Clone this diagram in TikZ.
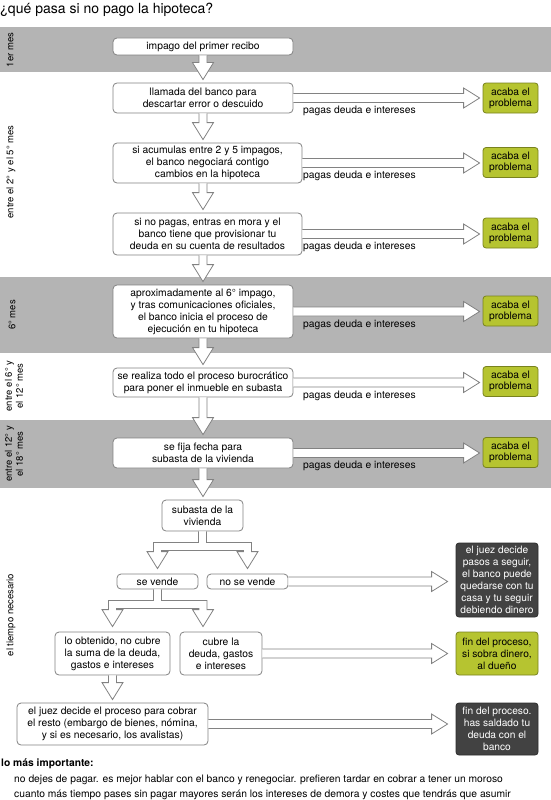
\documentclass[tikz,border=0pt]{standalone}
\usepackage{fontspec}
\setmainfont{TeX Gyre Heros}
\usetikzlibrary{calc}
\definecolor{band}{RGB}{180,180,180}
\definecolor{bord}{RGB}{130,130,130}
\definecolor{lime}{RGB}{182,196,48}
\definecolor{limeb}{RGB}{120,130,30}
\definecolor{dark}{RGB}{66,66,66}
\tikzset{
 box/.style={draw=bord, fill=white, rounded corners=4pt, line width=0.8pt, align=center, inner sep=0pt, font=\fontsize{10.3}{12}\selectfont},
 okbox/.style={draw=limeb, fill=lime, rounded corners=3pt, line width=0.8pt, align=center, inner sep=0pt, minimum width=55pt, minimum height=30pt, font=\fontsize{10.3}{11}\selectfont},
 dkbox/.style={draw=dark!70!black, fill=dark, text=white, rounded corners=3pt, line width=0.8pt, align=center, inner sep=0pt, minimum width=82pt, font=\fontsize{10.2}{12}\selectfont},
 okwide/.style={okbox, minimum width=82pt, font=\fontsize{10.2}{12}\selectfont},
 hol/.style={draw=bord, fill=white, line width=0.8pt, line join=miter},
 lbl/.style={font=\fontsize{10.3}{12}\selectfont, anchor=west, inner sep=0pt},
 side/.style={rotate=90, font=\fontsize{9.5}{11}\selectfont, align=center, inner sep=0pt},
 txt/.style={anchor=base west, inner sep=0pt, font=\fontsize{10.3}{12}\selectfont},
}
% horizontal hollow arrow: [gap]{source}{target}
\newcommand{\hArrow}[3][3pt]{\draw[hol] let \p1=(#2.east), \p2=(#3.west) in
  (\x1,\y1+4.5pt) -- (\x2-#1-16pt,\y1+4.5pt) -- (\x2-#1-16pt,\y1+10pt) -- (\x2-#1,\y1)
  -- (\x2-#1-16pt,\y1-10pt) -- (\x2-#1-16pt,\y1-4.5pt) -- (\x1,\y1-4.5pt);}
% vertical hollow arrow: {source}{target}{x reference}
\newcommand{\vArrow}[3]{\draw[hol] let \p1=(#1.south), \p2=(#2.north), \p3=(#3) in
  (\x3-4pt,\y1) -- (\x3-4pt,\y2+20pt) -- (\x3-10.5pt,\y2+20pt) -- (\x3,\y2+3pt)
  -- (\x3+10.5pt,\y2+20pt) -- (\x3+4pt,\y2+20pt) -- (\x3+4pt,\y1);}
% fork arrow: {source}{left x}{right x}{target y}{bar offset}
\newcommand{\forkArrow}[5]{\draw[hol] let \p1=(#1.south), \p2=(#2), \p3=(#3), \p4=(#4.north) in
  (\x1-4pt,\y1) -- (\x1-4pt,\y1-#5) -- (\x2-4pt,\y1-#5) -- (\x2-4pt,\y4+22pt) -- (\x2-10.5pt,\y4+22pt)
  -- (\x2,\y4+5pt) -- (\x2+10.5pt,\y4+22pt) -- (\x2+4pt,\y4+22pt) -- (\x2+4pt,\y1-#5-8pt)
  -- (\x3-4pt,\y1-#5-8pt) -- (\x3-4pt,\y4+22pt) -- (\x3-10.5pt,\y4+22pt) -- (\x3,\y4+5pt)
  -- (\x3+10.5pt,\y4+22pt) -- (\x3+4pt,\y4+22pt) -- (\x3+4pt,\y1-#5) -- (\x1+4pt,\y1-#5) -- (\x1+4pt,\y1);}

\begin{document}
\begin{tikzpicture}[x=1pt,y=-1pt]
\useasboundingbox (0,0) rectangle (551,800);
% bands
\fill[band] (0,27) rectangle (551,72);
\fill[band] (0,277) rectangle (551,353);
\fill[band] (0,420) rectangle (551,488);

% title
\node[anchor=base west, inner sep=0pt, font=\fontsize{14}{16}\selectfont] (title) at (0,14) {¿qué pasa si no pago la hipoteca?};

% side labels
\node[side] (m1) at (10,50) {1er mes};
\node[side] (m2) at (11,172) {entre el 2° y el 5° mes};
\node[side] (m3) at (12,315) {6° mes};
\node[side] (m4) at (14,386) {entre el 6° y\\el 12° mes};
\node[side] (m5) at (14,454) {entre el 12° y\\el 18° mes};
\node[side] (m6) at (11,615) {el tiempo necesario};

% main column
\node[box, minimum width=180pt, minimum height=17pt] (b1) at (203,46.5) {impago del primer recibo};
\node[box, minimum width=180pt, minimum height=30pt] (b2) at (203,98) {llamada del banco para\\descartar error o descuido};
\node[box, minimum width=189pt, minimum height=40pt] (b3) at (207.5,163) {si acumulas entre 2 y 5 impagos,\\el banco negociará contigo\\cambios en la hipoteca};
\node[box, minimum width=189pt, minimum height=42pt] (b4) at (207.5,234) {si no pagas, entras en mora y el\\banco tiene que provisionar tu\\deuda en su cuenta de resultados};
\node[box, minimum width=180pt, minimum height=53pt] (b5) at (203,311.5) {aproximadamente al 6° impago,\\y tras comunicaciones oficiales,\\el banco inicia el proceso de\\ejecución en tu hipoteca};
\node[box, minimum width=180pt, minimum height=29pt] (b6) at (203,382.5) {se realiza todo el proceso burocrático\\para poner el inmueble en subasta};
\node[box, minimum width=180pt, minimum height=30pt] (b7) at (203,453) {se fija fecha para\\subasta de la vivienda};

% green boxes
\node[okbox] (g2) at (510.5,98) {acaba el\\problema};
\node[okbox] (g3) at (510.5,162.5) {acaba el\\problema};
\node[okbox] (g4) at (510.5,233) {acaba el\\problema};
\node[okbox] (g5) at (510.5,311) {acaba el\\problema};
\node[okbox] (g6) at (510.5,381.5) {acaba el\\problema};
\node[okbox] (g7) at (510.5,452.5) {acaba el\\problema};

% labels
\node[lbl] (p2) at (303,111) {pagas deuda e intereses};
\node[lbl] (p3) at (303,176) {pagas deuda e intereses};
\node[lbl] (p4) at (303,247) {pagas deuda e intereses};
\node[lbl] (p5) at (303,324.5) {pagas deuda e intereses};
\node[lbl] (p6) at (303,395.5) {pagas deuda e intereses};
\node[lbl] (p7) at (303,466) {pagas deuda e intereses};

% lower part
\node[box, minimum width=81pt, minimum height=31pt] (sub) at (202.5,515.5) {subasta de la\\vivienda};
\node[box, minimum width=81pt, minimum height=15pt] (sv) at (157.5,581.5) {se vende};
\node[box, minimum width=81pt, minimum height=15pt] (nsv) at (247.5,581.5) {no se vende};
\node[box, minimum width=115pt, minimum height=43pt] (obt) at (112.5,653.5) {lo obtenido, no cubre\\la suma de la deuda,\\gastos e intereses};
\node[box, minimum width=82pt, minimum height=43pt] (cub) at (221,653.5) {cubre la\\deuda, gastos\\e intereses};
\node[box, minimum width=191pt, minimum height=42pt] (juez) at (112.5,724) {el juez decide el proceso para cobrar\\el resto (embargo de bienes, nómina,\\y si es necesario, los avalistas)};
\coordinate (rx) at (203,600);

\node[dkbox, minimum height=74pt] (d1) at (497,580) {el juez decide\\pasos a seguir,\\el banco puede\\quedarse con tu\\casa y tu seguir\\debiendo dinero};
\node[okwide, minimum height=43pt] (g8) at (497,653.5) {fin del proceso,\\si sobra dinero,\\al dueño};
\node[dkbox, minimum height=52pt] (d2) at (497,729) {fin del proceso.\\has saldado tu\\deuda con el\\banco};

% arrows
\vArrow{b1}{b2}{b1}
\vArrow{b2}{b3}{b1}
\vArrow{b3}{b4}{b1}
\vArrow{b4}{b5}{b1}
\vArrow{b5}{b6}{b1}
\vArrow{b6}{b7}{b1}
\vArrow{b7}{sub}{b1}
\vArrow{obt}{juez}{obt}
\hArrow{b2}{g2}
\hArrow{b3}{g3}
\hArrow{b4}{g4}
\hArrow{b5}{g5}
\hArrow{b6}{g6}
\hArrow{b7}{g7}
\hArrow[8pt]{nsv}{d1}
\hArrow[8pt]{cub}{g8}
\hArrow[8pt]{juez}{d2}
\forkArrow{sub}{sv}{nsv}{sv}{11pt}
\forkArrow{sv}{obt}{rx}{obt}{11pt}

% bottom text
\node[txt, font=\bfseries\fontsize{10.3}{12}\selectfont] (imp) at (1,766) {lo más importante:};
\node[txt] (t1) at (14,782) {no dejes de pagar. es mejor hablar con el banco y renegociar. prefieren tardar en cobrar a tener un moroso};
\node[txt] (t2) at (14,797) {cuanto más tiempo pases sin pagar mayores serán los intereses de demora y costes que tendrás que asumir};
\end{tikzpicture}
\end{document}
